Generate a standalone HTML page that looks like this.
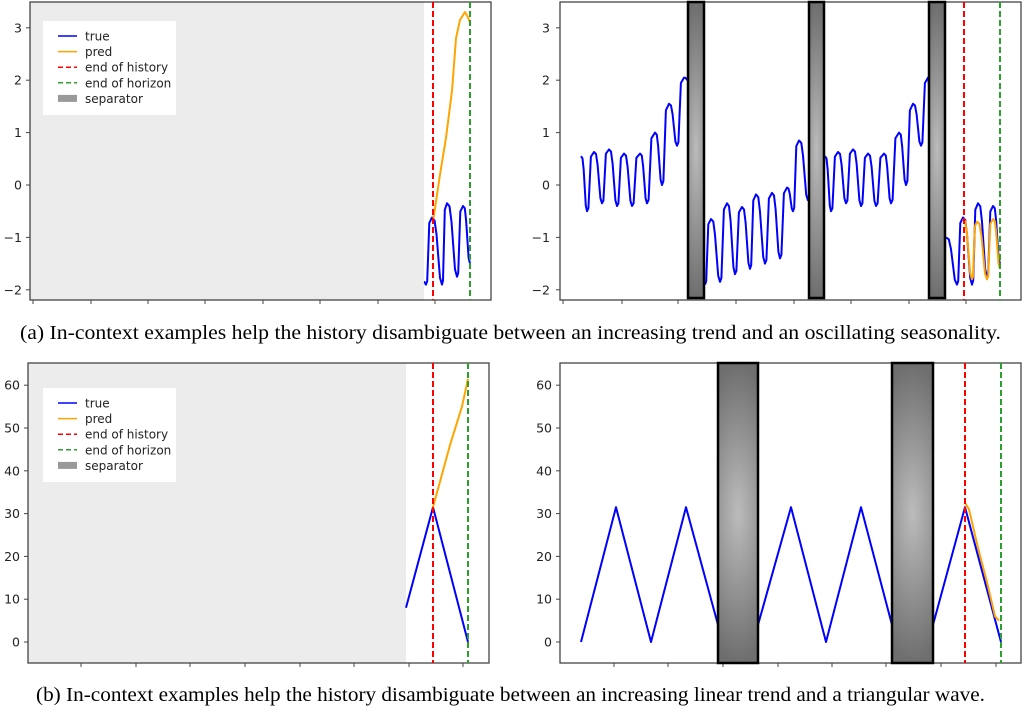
<!DOCTYPE html>
<html><head><meta charset="utf-8"><style>
body{margin:0;background:#fff;width:1024px;height:707px;overflow:hidden}
svg{display:block}
text{font-family:"DejaVu Sans","Liberation Sans",sans-serif}
.cap{font-family:"Liberation Serif",serif;font-size:20px;fill:#000}
.tl{font-size:12.5px;fill:#222}
.lg{font-size:12px;fill:#222}
</style></head><body>
<svg id="s" width="1024" height="707" xmlns="http://www.w3.org/2000/svg">
<defs>
<radialGradient id="g" cx="50%" cy="50%" r="50%" gradientTransform="translate(0.5,0.5) scale(2.2,1) translate(-0.5,-0.5)">
<stop offset="0" stop-color="#bcbcbc"/><stop offset="1" stop-color="#6e6e6e"/></radialGradient>
</defs>
<rect x="30" y="2" width="394" height="298" fill="#ececec"/>
<rect x="28" y="363" width="378" height="300" fill="#ececec"/>
<g id="dyn"></g>
<text class="cap" x="20" y="339" textLength="981" lengthAdjust="spacingAndGlyphs">(a) In-context examples help the history disambiguate between an increasing trend and an oscillating seasonality.</text>
<text class="cap" x="36" y="701" textLength="949" lengthAdjust="spacingAndGlyphs">(b) In-context examples help the history disambiguate between an increasing linear trend and a triangular wave.</text>
</svg>
<script>
const NS="http://www.w3.org/2000/svg";const G=document.getElementById('dyn');
function el(t,a,txt){const e=document.createElementNS(NS,t);for(const k in a)e.setAttribute(k,a[k]);if(txt!==undefined)e.textContent=txt;G.appendChild(e);return e;}
function pl(pts,c,w){el('polyline',{points:pts.map(p=>p[0].toFixed(1)+','+p[1].toFixed(1)).join(' '),fill:'none',stroke:c,'stroke-width':w||2,'stroke-linejoin':'round'});}
function axes(x0,x1,y0,y1,yt,xt,lblx){
 el('rect',{x:x0,y:y0,width:x1-x0,height:y1-y0,fill:'none',stroke:'#444','stroke-width':1.3});
 yt.forEach(([y,l])=>{el('line',{x1:x0-4,x2:x0,y1:y,y2:y,stroke:'#444'});el('text',{x:lblx,y:y+4.5,'text-anchor':'end',class:'tl'},l);});
 xt.forEach(x=>el('line',{x1:x,x2:x,y1:y1,y2:y1+4,stroke:'#444'}));
}
function vline(x,y0,y1,c){el('line',{x1:x,x2:x,y1:y0,y2:y1,stroke:c,'stroke-width':2,'stroke-dasharray':'6,3'});}
function sep(x0,x1,y0,y1){el('rect',{x:x0,y:y0,width:x1-x0,height:y1-y0,fill:'url(#g)',stroke:'#000','stroke-width':2.5});}
function legend(x,y){
 el('rect',{x:x,y:y,width:133,height:94,fill:'#fff'});
 const it=[['true','#0000ff',0],['pred','#ffa500',0],['end of history','#ff0000',1],['end of horizon','#2ca02c',1],['separator','#888',2]];
 it.forEach((t,i)=>{const yy=y+15+i*15.6;
  if(t[2]==2)el('rect',{x:x+15,y:yy-3.5,width:19,height:7,fill:'#999'});
  else el('line',{x1:x+15,x2:x+34,y1:yy,y2:yy,stroke:t[1],'stroke-width':1.5,'stroke-dasharray':t[2]?'5,3':'none'});
  el('text',{x:x+42,y:yy+4.5,class:'lg'},t[0]);});
}
function wave(ext,Y){const p=[];for(let i=0;i<ext.length;i++){const [x,v]=ext[i];
 if(i>0){const [px,pv]=ext[i-1];const dx=x-px;
  if(v>pv){p.push([px+dx*0.2,Y(pv+ (v-pv)*0.05)]);p.push([px+dx*0.55,Y(v-(v-pv)*0.08)]);}
  else{p.push([px+dx*0.25,Y(pv-(pv-v)*0.04)]);p.push([px+dx*0.45,Y(pv-(pv-v)*0.25)]);p.push([px+dx*0.8,Y(v+(pv-v)*0.1)]);}
 }
 p.push([x,Y(v)]);}return p;}
const YT=v=>185-52.4*v;
const ytTop=[[3,'3'],[2,'2'],[1,'1'],[0,'0'],[-1,'\u22121'],[-2,'\u22122']].map(a=>[YT(a[0]),a[1]]);
axes(30,491,2,300,ytTop,[33,91,148,205,263,320,378,435],22);
legend(43,21);
pl(wave([[424,-1.85],[426,-1.9],[432,-0.62],[442,-1.9],[447,-0.35],[457,-1.75],[463,-0.4],[470,-1.5]],YT),'#0000ff');
pl([[433,YT(-0.7)],[440,YT(0.2)],[446,YT(0.9)],[452,YT(1.8)],[456,YT(2.8)],[460,YT(3.15)],[465,YT(3.3)],[468,YT(3.2)],[470,YT(3.1)]],'#ffa500');
vline(433,2,300,'#ff0000');vline(470,2,300,'#2ca02c');
axes(560,1021,2,300,ytTop,[563,622,678,736,794,851,909,966],550);
const s1=[[581,0.55],[587,-0.5],[594,0.63],[602,-0.35],[609,0.68],[617,-0.4],[624,0.6],[632,-0.4],[640,0.6],[647,-0.35],[655,1.0],[662,0.0],[669,1.55],[677,0.75],[684,2.05],[688,2.0]];
pl(wave(s1,YT),'#0000ff');
const s3=s1.map(p=>[p[0]+244,p[1]]).filter(p=>p[0]<=929);s3.push([929,1.9]);
pl(wave(s3,YT),'#0000ff');
const s2=[[705,-1.9],[711,-0.65],[720,-1.85],[727,-0.35],[735,-1.7],[742,-0.42],[750,-1.6],[756,-0.18],[765,-1.5],[772,-0.15],[780,-1.4],[787,-0.05],[793,-0.5],[799,0.85],[808,-0.3]];
pl(wave(s2,YT),'#0000ff');
pl(wave([[946,-1.0],[957,-1.9],[963,-0.62],[972,-1.9],[978,-0.35],[987,-1.75],[993,-0.4],[1000,-1.5]],YT),'#0000ff');
pl(wave([[963,-0.65],[972,-1.8],[977,-0.7],[987,-1.8],[993,-0.65],[1000,-1.6]],YT),'#ffa500');
sep(688,704,2,298);sep(809,824,2,298);sep(929,945,2,298);
vline(964,2,300,'#ff0000');vline(1000,2,300,'#2ca02c');
const YB=v=>642-4.28*v;
const ytB=[60,50,40,30,20,10,0].map(v=>[YB(v),''+v]);
axes(28,489,363,663,ytB,[81,136,190,245,300,354,409,463],20);
legend(43,388);
pl([[406,YB(8)],[433,YB(31.5)],[468,YB(0)]],'#0000ff');
pl([[433,YB(31.5)],[450,YB(46)],[462,YB(55)],[468,YB(61.5)]],'#ffa500');
vline(433,363,663,'#ff0000');vline(468,363,663,'#2ca02c');
axes(560,1021,363,663,ytB,[614,668,723,778,832,886,941,996],552);
pl([[581,YB(0)],[616,YB(31.5)],[651,YB(0)],[686,YB(31.5)],[718,YB(4)]],'#0000ff');
pl([[758,YB(4)],[791,YB(31.5)],[826,YB(0)],[861,YB(31.5)],[892,YB(4)]],'#0000ff');
pl([[933,YB(4)],[965,YB(31.5)],[1001,YB(0)]],'#0000ff');
pl([[965,YB(32.5)],[969,YB(31)],[978,YB(22)],[987,YB(14)],[995,YB(6)],[999,YB(5)]],'#ffa500');
sep(718,758,363,663);sep(892,933,363,663);
vline(965,363,663,'#ff0000');vline(1001,363,663,'#2ca02c');
</script>
</body></html>
